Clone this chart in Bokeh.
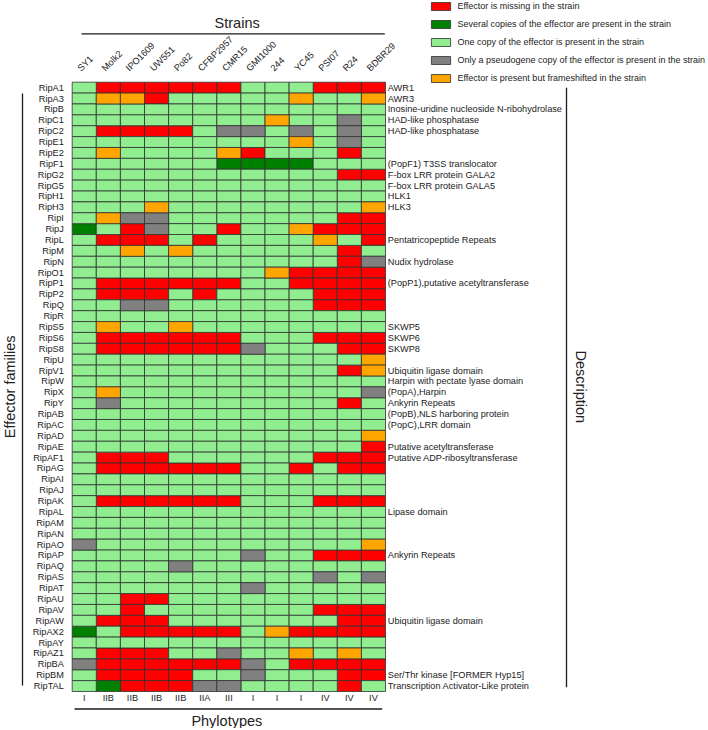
from math import pi
import pandas as pd
from bokeh.plotting import figure
from bokeh.core.properties import value
from bokeh.models import Range1d, ColumnDataSource, Legend, LegendItem
from bokeh.embed import file_html
from bokeh.resources import INLINE

# ---------------- data ----------------
strains = ["SY1", "Molk2", "IPO1609", "UW551", "Po82", "CFBP2957", "CMR15",
           "GMI1000", "244", "YC45", "PSI07", "R24", "BDBR29"]
phylotypes = ["I", "IIB", "IIB", "IIB", "IIB", "IIA", "III", "I", "I", "I", "IV", "IV", "IV"]

effectors = ["RipA1", "RipA3", "RipB", "RipC1", "RipC2", "RipE1", "RipE2", "RipF1", "RipG2",
             "RipG5", "RipH1", "RipH3", "RipI", "RipJ", "RipL", "RipM", "RipN", "RipO1",
             "RipP1", "RipP2", "RipQ", "RipR", "RipS5", "RipS6", "RipS8", "RipU", "RipV1",
             "RipW", "RipX", "RipY", "RipAB", "RipAC", "RipAD", "RipAE", "RipAF1", "RipAG",
             "RipAI", "RipAJ", "RipAK", "RipAL", "RipAM", "RipAN", "RipAO", "RipAP", "RipAQ",
             "RipAS", "RipAT", "RipAU", "RipAV", "RipAW", "RipAX2", "RipAY", "RipAZ1",
             "RipBA", "RipBM", "RipTAL"]

descriptions = ["AWR1", "AWR3", "Inosine-uridine nucleoside N-ribohydrolase",
                "HAD-like phosphatase", "HAD-like phosphatase", "", "",
                "(PopF1) T3SS translocator", "F-box LRR protein GALA2",
                "F-box LRR protein GALA5", "HLK1", "HLK3", "", "",
                "Pentatricopeptide Repeats", "", "Nudix hydrolase", "",
                "(PopP1),putative acetyltransferase", "", "", "", "SKWP5", "SKWP6", "SKWP8",
                "", "Ubiquitin ligase domain", "Harpin with pectate lyase domain",
                "(PopA),Harpin", "Ankyrin Repeats", "(PopB),NLS harboring protein",
                "(PopC),LRR domain", "", "Putative acetyltransferase",
                "Putative ADP-ribosyltransferase", "", "", "", "", "Lipase domain", "", "",
                "", "Ankyrin Repeats", "", "", "", "", "", "Ubiquitin ligase domain", "", "",
                "", "", "Ser/Thr kinase [FORMER Hyp15]",
                "Transcription Activator-Like protein"]

# one code per strain (R missing, D several copies, L one copy, G pseudogene, O frameshifted)
presence = ["LRRRRRRLLLRRR", "LOORLLLLLOLLO", "LLLLLLLLLLLLL", "LLLLLLLLOLLGL",
            "LRRRRLGGLGLGL", "LLLLLLLLLOLGL", "LOLLLLORLLLRL", "LLLLLLDDDDLLL",
            "LLLLLLLLLLLRR", "LLLLLLLLLLLLL", "LLLLLLLLLLLLL", "LLLOLLLLLLLLO",
            "LOGGLLLLLLLRR", "DLRGLLRLLORRR", "LRRRLRLLLLOLR", "LLOLOLLLLLLRL",
            "LLLLLLLLLLLRG", "LLLLLLLLORRRR", "LRRRRRRLLRRRR", "LRRRLRLLLLRRR",
            "LLGGLLLLLLRRR", "LLLLLLLLLLLLL", "LOLLOLLLLLLLL", "LRRRRRRLLLRRR",
            "LRRRRRRGLLLRR", "LLLLLLLLLLLLO", "LLLLLLLLLLLRO", "LLLLLLLLLLLLL",
            "LOLLLLLLLLLLG", "LGLLLLLLLLLRL", "LLLLLLLLLLLLL", "LLLLLLLLLLLLL",
            "LLLLLLLLLLLLO", "LLLLLLLLLLLLR", "LRRRLLLLLLRRR", "LRRRRRRLLRLRR",
            "LLLLLLLLLLLLL", "LLLLLLLLLLLLL", "LRRRRRRLLLRRR", "LLLLLLLLLLLLL",
            "LLLLLLLLLLLLL", "LLLLLLLLLLLLL", "GLLLLLLLLLLLO", "LLLLLLLGLLRRR",
            "LLLLGLLLLLLLL", "LLLLLLLLLLGLG", "LLLLLLLGLLLLL", "LLRRLLLLLLLLL",
            "LLRLLLLLLLRRR", "LRRRLLLLLLLRR", "DLRRRRRLORRRR", "LLLLLLLLLLLLL",
            "LRRRLLGLLOLOL", "GRRRRRRGLRRRR", "LRRRRLLGLLLRR", "LDRRRGGLLLLRL"]

status_codes = ["R", "D", "L", "G", "O"]
status_labels = ["Effector is missing in the strain",
                 "Several copies of the effector are present in the strain",
                 "One copy of the effector is present in the strain",
                 "Only a pseudogene copy of the effector is present in the strain",
                 "Effector is present but frameshifted in the strain"]
status_colors = ["#FF0000", "#008000", "#90EE90", "#808080", "#FFA500"]

# ---------------- layout (canvas pixels) ----------------
W, H = 706, 728
GL, GR, GT, GB = 71.7, 385.0, 81.7, 691.0          # heat-map block edges
NC, NR = len(strains), len(effectors)
CW = (GR - GL) / NC
RH = (GB - GT) / NR


def ux(px):   # canvas pixel -> column units
    return (px - GL) / CW


def uy(py):   # canvas pixel -> row units (0 = top row edge)
    return (py - GT) / RH


FONT = "Liberation Sans"
TXT = "#222222"
SMALL = value("9.2px")
BIG = value("14.5px")

# x: one unit per strain column, y: one unit per effector row (top to bottom)
p = figure(width=W, height=H,
           x_range=Range1d(ux(0), ux(W)), y_range=Range1d(uy(H), uy(0)),
           x_axis_location=None, y_axis_location=None, title=None,
           toolbar_location=None, output_backend="svg", min_border=0)
p.outline_line_color = None
p.grid.visible = False

col_pos = {s: i + 0.5 for i, s in enumerate(strains)}
row_pos = {e: j + 0.5 for j, e in enumerate(effectors)}

records = [(s, e, c, col_pos[s], row_pos[e])
           for e, row in zip(effectors, presence) for s, c in zip(strains, row)]
df = pd.DataFrame(records, columns=["strain", "effector", "status", "x", "y"])

items = []
for code, label, color in zip(status_codes, status_labels, status_colors):
    src = ColumnDataSource(df[df["status"] == code])
    r = p.rect(x="x", y="y", width=1, height=1, source=src,
               fill_color=color, line_color="#303030", line_width=0.8)
    items.append(LegendItem(label=label, renderers=[r]))

common = dict(text_font=value(FONT), text_font_size=SMALL, text_color=TXT)
rows_y = [row_pos[e] for e in effectors]
cols_x = [col_pos[s] for s in strains]

# effector names (left)
p.text(x=[0] * NR, y=rows_y, text=effectors, x_offset=-8.4,
       text_align="right", text_baseline="middle", **common)
# descriptions (right)
p.text(x=[NC] * NR, y=rows_y, text=descriptions, x_offset=2.3,
       text_align="left", text_baseline="middle", **common)
# strain names (top, rotated)
p.text(x=cols_x, y=[0] * NC, text=strains, angle=pi / 4, x_offset=-5, y_offset=-12.5,
       text_align="left", text_baseline="alphabetic", **common)
# phylotypes (bottom)
p.text(x=cols_x, y=[NR] * NC, text=phylotypes, y_offset=1.8,
       text_align="center", text_baseline="top", **common)

# rules
p.segment(x0=[ux(GL + 9.3), ux(GL + 2.3), ux(GL - 49.7), ux(GR + 181)],
          y0=[uy(GT - 48.4), uy(GB + 17.5), uy(GT + 11.3), uy(GT + 5.6)],
          x1=[ux(GR - 0.7), ux(GR - 3.3), ux(GL - 49.7), ux(GR + 181)],
          y1=[uy(GT - 48.4), uy(GB + 17.5), uy(GB - 6), uy(GB - 4.3)],
          line_color="#1a1a1a", line_width=1.3)

# titles
big = dict(text_font=value(FONT), text_font_size=BIG, text_color=TXT)
p.text(x=[NC / 2], y=[0], y_offset=-58.8, x_offset=8.3, text=["Strains"],
       text_align="center", text_baseline="alphabetic", **big)
p.text(x=[NC / 2], y=[NR], y_offset=29.5, x_offset=-2, text=["Phylotypes"],
       text_align="center", text_baseline="alphabetic", **big)
p.text(x=[ux(9.5)], y=[NR / 2], text=["Effector families"], angle=pi / 2,
       text_align="center", text_baseline="middle", **big)
p.text(x=[NC], y=[NR / 2], x_offset=195, text=["Description"], angle=-pi / 2,
       text_align="center", text_baseline="middle", **big)

legend = Legend(items=items, location="top_right", orientation="vertical",
                glyph_width=24, glyph_height=10, label_height=10, label_width=20,
                spacing=8, padding=0, margin=1, label_standoff=5,
                label_text_font=FONT, label_text_font_size="9px", label_text_color=TXT,
                border_line_color=None, background_fill_alpha=0)
p.add_layout(legend)

open("out.html", "w").write(file_html(p, INLINE))
